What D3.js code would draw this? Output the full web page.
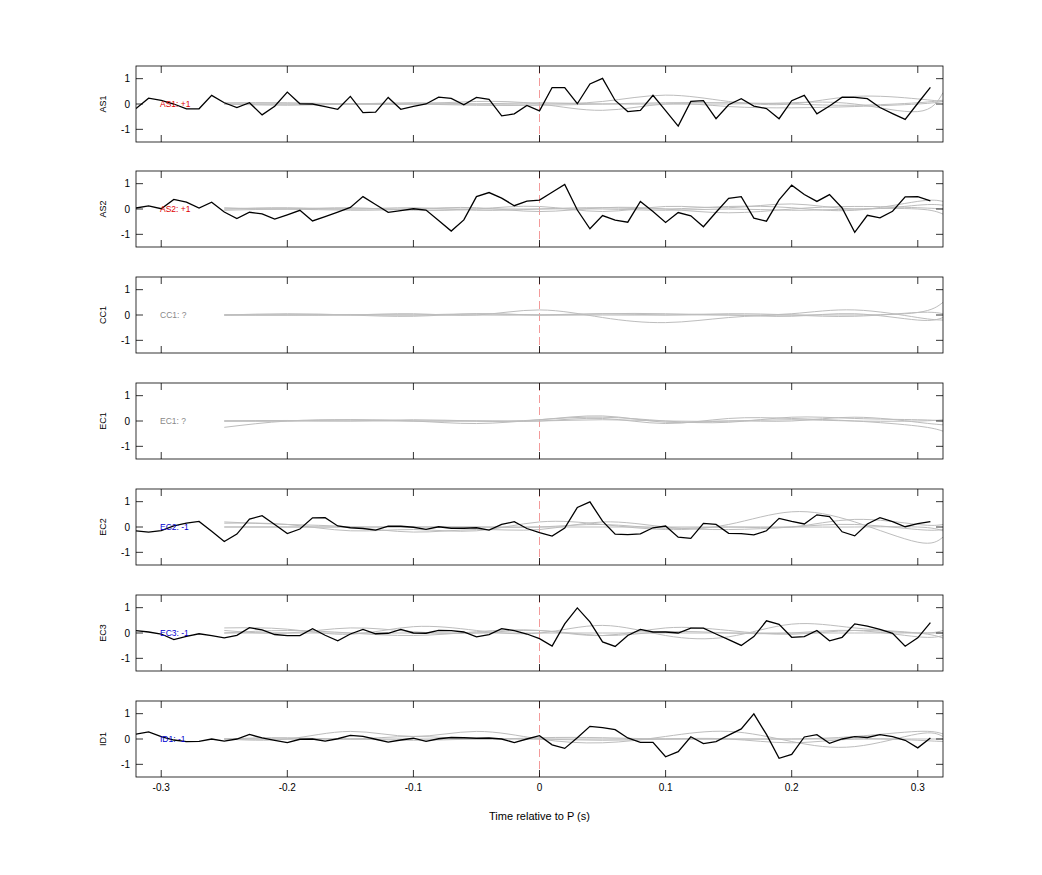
<!DOCTYPE html>
<html>
<head>
<meta charset="utf-8">
<script src="https://cdn.jsdelivr.net/npm/d3@7"></script>
<style>
  body { margin: 0; background: #fff; }
  text { font-family: "Liberation Sans", Arial, sans-serif; }
</style>
</head>
<body>
<script>
// channel names and labels
const channels = ["AS1", "AS2", "CC1", "EC1", "EC2", "EC3", "ID1"];
const tags = ["AS1: +1", "AS2: +1", "CC1: ?", "EC1: ?", "EC2: -1", "EC3: -1", "ID1: -1"];
const tagColors = ["#e00000", "#e00000", "#888", "#888", "#0000d0", "#0000d0", "#0000d0"];
const xTicks = [-0.3, -0.2, -0.1, 0, 0.1, 0.2, 0.3];
const yTicks = [-1, 0, 1];

// black trace sampled every 10 ms from -0.32 to 0.31
const blackT = d3.range(64).map(i => Math.round((-0.32 + i * 0.01) * 100) / 100);
const as1 = [-0.18,0.23,0.14,0.0,-0.19,-0.19,0.34,0.05,-0.14,0.05,-0.43,-0.09,0.47,0.01,0,-0.1,-0.21,0.3,-0.34,-0.32,0.26,-0.21,-0.09,0,0.27,0.22,-0.03,0.26,0.18,-0.47,-0.39,-0.06,-0.27,
  0.65,0.65,0.01,0.79,1.01,0.14,-0.3,-0.25,0.34,-0.26,-0.87,0.1,0.13,-0.58,-0.03,0.21,-0.08,-0.18,-0.58,0.13,0.34,-0.39,-0.08,0.27,0.26,0.21,-0.14,-0.38,-0.61,0.03,0.66];
const as2 = [0.04,0.12,0.01,0.38,0.27,0.04,0.27,-0.12,-0.38,-0.13,-0.19,-0.4,-0.23,-0.05,-0.47,-0.3,-0.12,0.06,0.49,0.18,-0.13,-0.06,0.01,-0.04,-0.45,-0.87,-0.43,0.49,0.65,0.43,0.13,0.31,0.35,
  0.66,0.97,-0.04,-0.78,-0.26,-0.44,-0.52,0.3,-0.1,-0.53,-0.14,-0.27,-0.7,-0.13,0.42,0.49,-0.36,-0.48,0.36,0.94,0.57,0.3,0.57,0.04,-0.92,-0.25,-0.35,-0.09,0.48,0.49,0.32];
const ec2 = [-0.15,-0.2,-0.14,0.04,0.15,0.22,-0.17,-0.57,-0.28,0.31,0.45,0.1,-0.26,-0.08,0.36,0.37,0.04,-0.03,-0.06,-0.12,0.03,0.03,-0.01,-0.09,0.01,-0.05,-0.05,-0.03,-0.12,0.1,0.21,-0.06,-0.22,
  -0.36,-0.04,0.77,0.99,0.23,-0.28,-0.3,-0.27,-0.03,0.04,-0.4,-0.45,0.14,0.1,-0.25,-0.26,-0.31,-0.15,0.34,0.22,0.12,0.48,0.41,-0.19,-0.35,0.12,0.37,0.21,0.01,0.13,0.21];
const ec3 = [0.09,0.04,-0.04,-0.26,-0.13,-0.03,-0.1,-0.19,-0.09,0.21,0.12,-0.06,-0.1,-0.1,0.17,-0.09,-0.31,-0.04,0.14,-0.03,-0.01,0.14,0,-0.01,0.1,0.09,0.04,-0.15,-0.06,0.17,0.09,-0.04,-0.22,
  -0.52,0.36,0.99,0.44,-0.35,-0.53,-0.1,0.14,0.04,0.04,0,0.19,0.19,-0.04,-0.26,-0.49,-0.14,0.48,0.34,-0.17,-0.14,0.1,-0.31,-0.17,0.36,0.27,0.14,-0.01,-0.52,-0.19,0.41];
const id1 = [0.19,0.28,0.09,-0.04,-0.1,-0.09,0,-0.08,0,0.18,0.04,-0.05,-0.14,-0.01,0,-0.08,0.01,0.14,0.1,-0.01,-0.12,-0.04,0.03,-0.09,0.01,0.06,0.05,0.03,0.04,0,-0.14,0,0.13,
  -0.23,-0.37,0.05,0.5,0.45,0.37,0.04,-0.13,-0.13,-0.7,-0.5,0.09,-0.18,-0.1,0.15,0.4,0.99,0.18,-0.76,-0.61,0.08,0.17,-0.17,0,0.09,0.06,0.17,0.09,-0.05,-0.35,0.04];
const blackSeries = [as1, as2, null, null, ec2, ec3, id1];

// gray traces, coarse estimates
const grayT = [-0.25,-0.2,-0.15,-0.1,-0.05,0,0.05,0.1,0.15,0.2,0.25,0.3,0.32];
const grayAS1 = [
  [0.05,0.05,0,0,0.1,0,-0.25,0,-0.1,-0.15,-0.1,0,0.1],
  [0,0,0,0.05,0,0,0.1,0.35,0.1,0,0.3,0.2,0.1],
  [0,0,0,0,0,0.05,0,0,0,0.05,0,-0.3,0.45],
  [0,-0.05,0,0,-0.05,-0.05,0,0.05,0.05,0,-0.05,0.05,0.15]];
const grayAS2 = [
  [0,0,-0.05,0,0.05,-0.1,0.05,0,-0.15,0,0.1,0.05,0],
  [0.05,0,0.05,-0.05,0,0.1,-0.1,0.1,0.05,0.2,0,0.15,0.15],
  [-0.05,0,0,0,0,0,0,-0.05,0,-0.05,0,0,-0.2],
  [0,0.05,0,0.05,-0.05,0,0.05,0,0.1,0.05,-0.05,0.3,0.3]];
const grayCC1 = [
  [0,0,0,0.05,0,0.2,-0.1,-0.3,-0.1,0,0,0.1,0.5],
  [0,0.05,0,-0.05,0.05,0,0.05,0.05,0,0.05,0.2,-0.1,-0.2],
  [0,0,0.02,0,0.05,0,0,0,0.05,0,-0.05,0.1,0.05],
  [0,0,0,0,0,0,0.05,0,0,-0.05,0.05,-0.2,-0.1]];
const grayEC1 = [
  [-0.25,0,0.05,0,-0.1,0.05,0.15,0,-0.05,0.15,0.1,0.05,0],
  [0,0,0.05,0,0,0,0.1,-0.1,0.1,0.1,0,-0.2,-0.4],
  [0,0.02,0,0.05,0,0.05,0.2,-0.05,0,0,0.15,-0.05,-0.15],
  [0,0,0,0,0,0,0.05,0,0,0.05,0,0,0.05]];
const grayEC2 = [
  [0.15,0.1,-0.15,-0.1,-0.15,0.2,0.1,-0.1,0.1,0.6,0.2,-0.6,-0.4],
  [0,0,0,0,0,0,0.1,-0.05,0,0,0.3,0.1,0.1],
  [0.2,0.1,0,-0.2,-0.1,-0.1,0.2,0,-0.1,0,0.1,-0.1,-0.1],
  [0,0,0,0,0,0,0,0,0,0,0,0,-0.15]];
const grayEC3 = [
  [0.2,0.15,-0.05,0.25,0.1,0,0.3,-0.1,-0.15,0.35,0.2,0,-0.2],
  [0,0.1,0,-0.1,0.05,0.1,-0.1,0.2,0.1,-0.05,0.1,0,0.1],
  [0.1,0,0.2,0.05,0,0.1,-0.1,0.05,0,0,0.1,-0.15,-0.1],
  [0,0,0,0,0,0,0,0,0,0,0,0,0]];
const grayID1 = [
  [0,0,0.3,0.1,0.3,0,-0.15,0.1,0.3,-0.1,-0.3,0.2,0.1],
  [0,0.05,0,0.1,0,0.05,0.05,0,0,0,0.1,0.3,0.2],
  [0,0,0,-0.05,0,0,-0.05,0,0,-0.15,0,-0.05,-0.1],
  [0,0,0,0,0,0,0,0,0,0,0,0,0]];
const graySeries = [grayAS1, grayAS2, grayCC1, grayEC1, grayEC2, grayEC3, grayID1];

const W = 1042, H = 875;
const left = 136, right = 943;
const panelTops = [66, 171, 277, 383, 489, 595, 701];
const panelH = 76;

const svg = d3.select("body").append("svg").attr("width", W).attr("height", H);
const defs = svg.append("defs");

const x = d3.scaleLinear().domain([-0.32, 0.32]).range([left, right]);

channels.forEach((ch, i) => {
  const top = panelTops[i];
  const y = d3.scaleLinear().domain([-1.5, 1.5]).range([top + panelH, top]);
  const g = svg.append("g");

  defs.append("clipPath").attr("id", "clip" + i)
    .append("rect").attr("x", left).attr("y", top).attr("width", right - left).attr("height", panelH);
  const plot = g.append("g").attr("clip-path", `url(#clip${i})`);

  // zero line
  plot.append("line")
    .attr("x1", x(0)).attr("x2", x(0)).attr("y1", top).attr("y2", top + panelH)
    .attr("stroke", "#f08080").attr("stroke-width", 0.8).attr("stroke-dasharray", "8,4");

  const grayLine = d3.line().x((d, k) => x(grayT[k])).y(d => y(d)).curve(d3.curveNatural);
  graySeries[i].forEach(s => {
    plot.append("path").attr("d", grayLine(s))
      .attr("fill", "none").attr("stroke", "#bdbdbd").attr("stroke-width", 1);
  });

  if (blackSeries[i]) {
    const line = d3.line().x((d, k) => x(blackT[k])).y(d => y(d));
    plot.append("path").attr("d", line(blackSeries[i]))
      .attr("fill", "none").attr("stroke", "#000").attr("stroke-width", 1.3);
  }

  // box with inward ticks on all sides
  g.append("rect").attr("x", left).attr("y", top).attr("width", right - left).attr("height", panelH)
    .attr("fill", "none").attr("stroke", "#000").attr("stroke-width", 0.8);
  xTicks.forEach(t => {
    g.append("line").attr("x1", x(t)).attr("x2", x(t)).attr("y1", top + panelH).attr("y2", top + panelH - 7).attr("stroke", "#000").attr("stroke-width", 0.8);
    g.append("line").attr("x1", x(t)).attr("x2", x(t)).attr("y1", top).attr("y2", top + 7).attr("stroke", "#000").attr("stroke-width", 0.8);
  });
  yTicks.forEach(t => {
    g.append("line").attr("x1", left).attr("x2", left + 7).attr("y1", y(t)).attr("y2", y(t)).attr("stroke", "#000").attr("stroke-width", 0.8);
    g.append("line").attr("x1", right).attr("x2", right - 7).attr("y1", y(t)).attr("y2", y(t)).attr("stroke", "#000").attr("stroke-width", 0.8);
    g.append("text").attr("x", left - 6).attr("y", y(t) + 3.5).attr("text-anchor", "end")
      .attr("font-size", 10).text(t);
  });

  g.append("text")
    .attr("transform", `translate(${left - 30},${y(0)}) rotate(-90)`)
    .attr("text-anchor", "middle").attr("font-size", 9).text(ch);

  g.append("text").attr("x", 160).attr("y", y(0) + 3)
    .attr("font-size", 8.5).attr("fill", tagColors[i]).text(tags[i]);

  if (i === channels.length - 1) {
    xTicks.forEach(t => {
      g.append("text").attr("x", x(t)).attr("y", top + panelH + 14).attr("text-anchor", "middle")
        .attr("font-size", 10).text(t);
    });
    g.append("text").attr("x", x(0)).attr("y", 820).attr("text-anchor", "middle")
      .attr("font-size", 11).text("Time relative to P (s)");
  }
});
</script>
</body>
</html>
